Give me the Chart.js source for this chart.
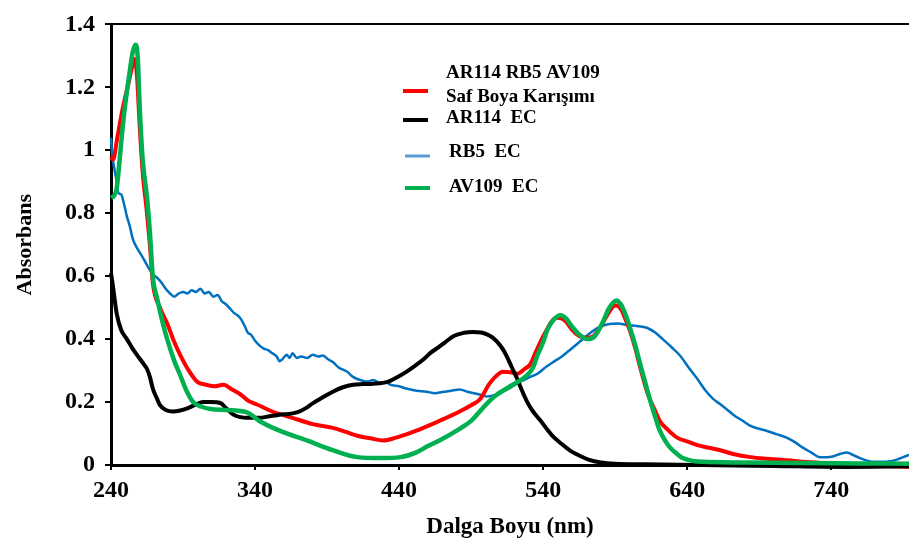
<!DOCTYPE html>
<html lang="tr">
<head>
<meta charset="utf-8">
<title>Absorbans Spektrumu</title>
<script src="https://cdn.jsdelivr.net/npm/chart.js@4/dist/chart.umd.min.js"></script>
<style>
  html, body { margin: 0; padding: 0; background: #fff; }
  #kutu { width: 909px; height: 545px; }
</style>
</head>
<body>
<div id="kutu"><canvas id="spektrumChart" width="909" height="545"></canvas></div>
<script>
// Eksen ayarlari
const xTicks = [240, 340, 440, 540, 640, 740];
const xMin = 240;
const xMax = 794;
const yTicks = [0, 0.2, 0.4, 0.6, 0.8, 1, 1.2, 1.4];

// Seri adlari
const seriesLabels = [["AR114 RB5 AV109", "Saf Boya Karışımı"], "AR114  EC", "RB5  EC", "AV109  EC"];

// AR114 RB5 AV109 saf boya karisimi
const karisimNm = [240, 241.5, 244, 248, 252, 255, 256.5, 258, 260, 262, 265, 267, 269, 274, 279, 284, 288, 294, 300,
  306, 312, 318, 324, 330, 335, 341, 352, 366, 380, 394, 403, 411, 420, 429, 438, 445, 452, 463, 468, 482, 490, 496,
  503, 508, 512, 517, 522, 527, 531, 535, 538, 542, 545, 549, 552, 556, 560, 565, 570, 575, 580, 585, 589, 591, 594,
  597, 600, 604, 607, 611, 614, 618, 621, 627, 633, 640, 647, 655, 663, 672, 684, 695, 710, 720, 740, 760, 775, 794];
const karisimAbs = [0.98, 0.97, 1.03, 1.13, 1.21, 1.27, 1.29, 1.24, 1.07, 0.93, 0.8, 0.7, 0.58, 0.5, 0.45, 0.39, 0.35, 0.3, 0.264,
  0.255, 0.25, 0.255, 0.24, 0.224, 0.205, 0.193, 0.17, 0.15, 0.13, 0.118, 0.105, 0.093, 0.085, 0.078, 0.087, 0.097, 0.109, 0.13, 0.14, 0.17, 0.19, 0.208,
  0.26, 0.285, 0.296, 0.295, 0.29, 0.305, 0.32, 0.36, 0.39, 0.425, 0.45, 0.468, 0.467, 0.455, 0.43, 0.41, 0.404, 0.41, 0.44, 0.48, 0.505, 0.507, 0.495,
  0.465, 0.43, 0.37, 0.317, 0.25, 0.21, 0.17, 0.14, 0.11, 0.087, 0.075, 0.063, 0.055, 0.047, 0.035, 0.025, 0.02, 0.015, 0.01, 0.005, 0.0, -0.003, -0.006];

// AR114 EC
const ar114Nm = [240, 241, 244, 247, 251, 255, 258, 262, 265, 267, 269, 272, 274, 278, 283, 288, 293, 298, 304, 310, 316, 320,
  325, 330, 334, 343, 350, 357, 363, 369, 375, 380, 387, 394, 401, 408, 415, 422, 432, 438, 445, 451, 457, 462, 466, 472,
  478, 485, 491, 497, 501, 505, 508, 512, 515, 518, 522, 525, 529, 533, 538, 543, 547, 552, 559, 566, 572, 580, 590, 610,
  650, 700, 750, 794];
const ar114Abs = [0.61, 0.58, 0.48, 0.43, 0.4, 0.37, 0.35, 0.325, 0.305, 0.28, 0.243, 0.21, 0.19, 0.175, 0.17, 0.173, 0.18, 0.19, 0.2, 0.2, 0.197, 0.18,
  0.16, 0.152, 0.15, 0.15, 0.155, 0.16, 0.162, 0.167, 0.18, 0.196, 0.215, 0.233, 0.247, 0.255, 0.257, 0.258, 0.264, 0.277, 0.296, 0.315, 0.336, 0.357, 0.37, 0.39,
  0.41, 0.42, 0.423, 0.421, 0.415, 0.405, 0.392, 0.368, 0.343, 0.313, 0.274, 0.24, 0.2, 0.17, 0.142, 0.112, 0.09, 0.07, 0.045, 0.028, 0.016, 0.008, 0.004, 0.002,
  0.0, -0.003, -0.006, -0.004];

// RB5 EC
const rb5Nm = [240, 241, 242, 244, 245, 247, 249, 251, 253, 255, 258, 262, 265, 269, 272, 275, 278, 281, 284, 287, 290, 293,
  296, 299, 302, 305, 308, 311, 314, 317, 320, 323, 325, 328, 330, 333, 335, 337, 340, 343, 346, 349, 352, 355, 357, 359,
  362, 364, 366, 369, 372, 376, 380, 384, 387, 391, 394, 398, 404, 408, 413, 418, 422, 427, 431, 434, 440, 445, 452, 459,
  465, 470, 476, 482, 488, 495, 501, 506, 512, 518, 524, 530, 536, 541, 547, 553, 559, 565, 570, 576, 580, 586, 592, 598,
  605, 612, 618, 623, 629, 635, 641, 647, 653, 658, 663, 668, 672, 678, 684, 690, 695, 702, 709, 715, 720, 726, 732, 737,
  741, 746, 751, 755, 760, 765, 769, 775, 781, 786, 790, 794];
const rb5Abs = [1.04, 0.98, 0.95, 0.9, 0.865, 0.86, 0.83, 0.79, 0.76, 0.72, 0.69, 0.66, 0.635, 0.607, 0.595, 0.58, 0.56, 0.545, 0.535, 0.545, 0.55, 0.545,
  0.555, 0.55, 0.56, 0.545, 0.55, 0.535, 0.54, 0.52, 0.51, 0.495, 0.485, 0.475, 0.465, 0.44, 0.42, 0.415, 0.395, 0.38, 0.37, 0.365, 0.355, 0.345, 0.33, 0.336,
  0.35, 0.34, 0.355, 0.34, 0.345, 0.34, 0.35, 0.345, 0.348, 0.335, 0.327, 0.31, 0.296, 0.28, 0.27, 0.265, 0.27, 0.26, 0.262, 0.255, 0.25, 0.243, 0.236, 0.233,
  0.228, 0.232, 0.236, 0.24, 0.232, 0.225, 0.218, 0.222, 0.233, 0.248, 0.264, 0.278, 0.29, 0.308, 0.327, 0.345, 0.367, 0.39, 0.41, 0.43, 0.44, 0.448, 0.45, 0.445,
  0.442, 0.436, 0.42, 0.4, 0.375, 0.348, 0.31, 0.274, 0.235, 0.21, 0.193, 0.175, 0.16, 0.142, 0.124, 0.115, 0.109, 0.098, 0.087, 0.072, 0.056, 0.04, 0.025, 0.025,
  0.027, 0.035, 0.04, 0.032, 0.022, 0.014, 0.01, 0.01, 0.012, 0.018, 0.025, 0.032];

// AV109 EC
const av109Nm = [240, 242, 244, 246, 248, 250, 253, 255, 257, 258.5, 260, 262, 265, 267, 269, 272, 276, 279, 284, 288, 292,
  297, 303, 309, 320, 334, 343, 357, 376, 394, 411, 427, 441, 452, 460, 468, 482, 490, 496, 502, 508, 519, 529, 533, 536,
  540, 543, 547, 552, 556, 560, 565, 571, 576, 581, 586, 591, 594, 597, 600, 604, 607, 611, 614, 618, 621, 625, 628, 633,
  637, 645, 651, 680, 720, 760, 794];
const av109Abs = [0.85, 0.855, 0.88, 0.97, 1.07, 1.15, 1.25, 1.31, 1.335, 1.3, 1.13, 0.97, 0.85, 0.74, 0.6, 0.53, 0.45, 0.4, 0.33, 0.286, 0.24,
  0.2, 0.185, 0.178, 0.175, 0.168, 0.14, 0.109, 0.078, 0.047, 0.025, 0.022, 0.025, 0.04, 0.06, 0.078, 0.115, 0.14, 0.17, 0.2, 0.224, 0.255, 0.286, 0.31, 0.348,
  0.39, 0.43, 0.46, 0.476, 0.465, 0.44, 0.415, 0.4, 0.41, 0.45, 0.5, 0.523, 0.51, 0.48, 0.44, 0.38, 0.327, 0.26, 0.21, 0.15, 0.109, 0.075, 0.056, 0.035,
  0.022, 0.012, 0.01, 0.008, 0.006, 0.005, 0.004];

const renkler = ["#ff0000", "#000000", "#0070c0", "#00b050"];
const legendRenkler = ["#ff0000", "#000000", "#5b9bd5", "#00b050"];
const yaziTipi = "'Liberation Serif', 'Times New Roman', serif";

function noktalar(nm, abs) {
  return nm.map((x, i) => ({ x: x, y: abs[i] }));
}

// Sag ustteki aciklama kutusu (elle cizilir)
const aciklamaPlugin = {
  id: "aciklama",
  afterDatasetsDraw(chart) {
    const ctx = chart.ctx;
    const satirlar = [
      { y: 91, metin: [[73, seriesLabels[0][0]], [97, seriesLabels[0][1]]], x0: 403, tx: 446, kalin: 4 },
      { y: 120, metin: [[118, seriesLabels[1]]], x0: 403, tx: 446, kalin: 4 },
      { y: 156, metin: [[152, seriesLabels[2]]], x0: 405, tx: 449, kalin: 3 },
      { y: 188, metin: [[187, seriesLabels[3]]], x0: 405, tx: 449, kalin: 4 }
    ];
    ctx.save();
    ctx.font = "bold 19px " + yaziTipi;
    ctx.textBaseline = "middle";
    ctx.textAlign = "left";
    satirlar.forEach((s, i) => {
      ctx.strokeStyle = legendRenkler[i];
      ctx.lineWidth = s.kalin;
      ctx.beginPath();
      ctx.moveTo(s.x0, s.y);
      ctx.lineTo(s.x0 + 25, s.y);
      ctx.stroke();
      ctx.fillStyle = "#000";
      s.metin.forEach(m => ctx.fillText(m[1], s.tx, m[0]));
    });
    ctx.restore();
  }
};

document.addEventListener("DOMContentLoaded", function () {
  const ctx = document.getElementById("spektrumChart").getContext("2d");
  const veri = [
    { label: "AR114 RB5 AV109 Saf Boya Karışımı", data: noktalar(karisimNm, karisimAbs), borderColor: renkler[0], borderWidth: 4, order: 2 },
    { label: seriesLabels[1], data: noktalar(ar114Nm, ar114Abs), borderColor: renkler[1], borderWidth: 4, order: 1 },
    { label: seriesLabels[2], data: noktalar(rb5Nm, rb5Abs), borderColor: renkler[2], borderWidth: 2.5, order: 3 },
    { label: seriesLabels[3], data: noktalar(av109Nm, av109Abs), borderColor: renkler[3], borderWidth: 4.5, order: 0 }
  ];
  veri.forEach(d => {
    d.pointRadius = 0;
    d.fill = false;
    d.clip = false;
    d.cubicInterpolationMode = "monotone";
  });

  new Chart(ctx, {
    type: "line",
    data: { datasets: veri },
    options: {
      responsive: false,
      animation: false,
      layout: { padding: { top: 15, right: 0, bottom: 0, left: 0 } },
      plugins: { legend: { display: false }, tooltip: { enabled: false } },
      scales: {
        x: {
          type: "linear",
          min: xMin,
          max: xMax,
          afterBuildTicks: s => { s.ticks = xTicks.map(v => ({ value: v })); },
          afterFit: s => { s.height = 80; },
          border: { display: true, color: "#000", width: 3 },
          grid: { display: true, drawOnChartArea: false, color: "#000", tickColor: "#000", tickLength: 5, lineWidth: 2 },
          ticks: { color: "#000", padding: 6, maxRotation: 0, font: { family: yaziTipi, size: 24, weight: "bold" } },
          title: { display: true, text: "Dalga Boyu (nm)", color: "#000", padding: { top: 0, bottom: 4 },
                   font: { family: yaziTipi, size: 23, weight: "bold" } }
        },
        y: {
          min: 0,
          max: 1.4,
          afterBuildTicks: s => { s.ticks = yTicks.map(v => ({ value: v })); },
          afterFit: s => { s.width = 111; },
          border: { display: true, color: "#000", width: 3 },
          grid: {
            display: true,
            color: c => (c.tick && Math.abs(c.tick.value - 1.4) < 1e-6 ? "#000" : "rgba(0,0,0,0)"),
            tickColor: "#000",
            tickLength: 6,
            lineWidth: 2
          },
          ticks: {
            color: "#000",
            padding: 10,
            font: { family: yaziTipi, size: 24, weight: "bold" },
            callback: v => String(Math.round(v * 10) / 10)
          },
          title: { display: true, text: "Absorbans", color: "#000", padding: { top: 12, bottom: 0 },
                   font: { family: yaziTipi, size: 22, weight: "bold" } }
        }
      }
    },
    plugins: [aciklamaPlugin]
  });
});
</script>
</body>
</html>
